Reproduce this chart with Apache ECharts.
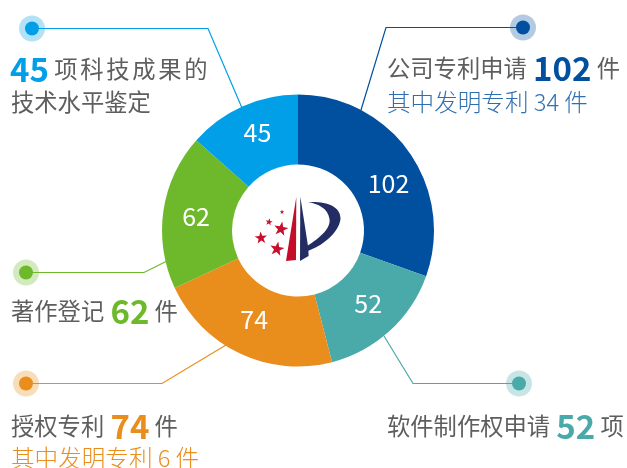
<!DOCTYPE html>
<html>
<head>
<meta charset="utf-8">
<style>
html,body{margin:0;padding:0;background:#fff;}
#chart{width:627px;height:468px;}
</style>
<script src="https://cdn.jsdelivr.net/npm/echarts@6/dist/echarts.min.js"></script>
</head>
<body>
<div id="chart"></div>
<script>
var categories = ['公司专利申请', '软件制作权申请', '授权专利', '著作登记', '项科技成果的技术水平鉴定'];
var values = [102, 52, 74, 62, 45];
var colors = ['#00509f', '#4aa9a9', '#e98d1c', '#6eb92b', '#009fe8'];
var inventionPatents = [34, 6];

var FONT = '"Noto Sans CJK SC", "Noto Sans", sans-serif';
var GREY = '#5e5e5e';

// 引线：圆点 -> 折点 -> 扇形边缘，顺序同 categories
var leaders = [
    [[523, 27.5], [386, 27.5], [361, 110]],
    [[519, 383.5], [413, 383.5], [384, 336]],
    [[26, 383.5], [162, 383.5], [226, 345]],
    [[26, 272.5], [144, 272.5], [167, 261]],
    [[32, 28.5], [208, 28.5], [242, 108]]
];
var labelOffsets = [[5.5, 13], [0, -4], [0.5, -5], [1, 1], [2, -3]];

function hexAlpha(hex, a){
    var n = parseInt(hex.slice(1), 16);
    return 'rgba(' + (n >> 16) + ',' + ((n >> 8) & 255) + ',' + (n & 255) + ',' + a + ')';
}

function starPoints(cx, cy, r, rot){
    var pts = [];
    for(var i = 0; i < 10; i++){
        var rr = i % 2 ? r * 0.4 : r;
        var a = (rot - 90 + i * 36) * Math.PI / 180;
        pts.push([cx + rr * Math.cos(a), cy + rr * Math.sin(a)]);
    }
    return pts;
}

function richStyles(color){
    return {
        t: {fontFamily: FONT, fontSize: 23.3, fill: GREY, lineHeight: 34},
        w: {fontFamily: FONT, fontSize: 23.3, fill: GREY, lineHeight: 34, padding: [0, 2.7, 0, 0]},
        n: {fontFamily: FONT, fontSize: 33, fontWeight: 'bold', fill: color, lineHeight: 34, padding: [0, 0, 0, 1]},
        s: {fontFamily: FONT, fontSize: 23.6, fontWeight: 300, fill: color, lineHeight: 34}
    };
}

function textEl(x, y, text, color){
    return {
        type: 'text', x: x, y: y, z: 10,
        style: {
            text: text, rich: richStyles(color),
            fontFamily: FONT, verticalAlign: 'middle', align: 'left'
        }
    };
}

// 字间距稍大的一行
function spaced(str){
    return str.split('').map(function(c){ return '{w|' + c + '}'; }).join('');
}

echarts.graphic.registerShape('logoStem', echarts.graphic.extendPath('M300.3 196.5 L308.3 248 L308.6 256 L300 261 Z', {}));
echarts.graphic.registerShape('logoBowl', echarts.graphic.extendPath('M308 202 C326 201 341 206 340.5 219 C339 233 321 247 307 251 L307 246 C320 238 331 228 329.5 219 C328 208 318 204 308 202 Z', {}));

var graphics = [];

leaders.forEach(function(pts, i){
    graphics.push({type: 'polyline', z: 1, shape: {points: pts}, style: {stroke: colors[i], lineWidth: 1.2, fill: null}});
    graphics.push({type: 'circle', z: 2, shape: {cx: pts[0][0], cy: pts[0][1], r: 13}, style: {fill: hexAlpha(colors[i], 0.3)}});
    graphics.push({type: 'circle', z: 3, shape: {cx: pts[0][0], cy: pts[0][1], r: 7}, style: {fill: colors[i]}});
});

graphics.push(textEl(387, 68, '{t|' + categories[0] + ' }{n|' + values[0] + '}{t| 件}', colors[0]));
graphics.push(textEl(387, 102, '{s|其中发明专利 ' + inventionPatents[0] + ' 件}', '#2f6fb0'));
graphics.push(textEl(387, 426, '{t|' + categories[1] + ' }{n|' + values[1] + '}{t| 项}', colors[1]));
graphics.push(textEl(11, 311, '{t|' + categories[3] + ' }{n|' + values[3] + '}{t| 件}', colors[3]));
graphics.push(textEl(11, 426, '{t|' + categories[2] + ' }{n|' + values[2] + '}{t| 件}', colors[2]));
graphics.push(textEl(11, 458, '{s|其中发明专利 ' + inventionPatents[1] + ' 件}', colors[2]));
graphics.push(textEl(9, 69, '{n|' + values[4] + '}{t| }' + spaced('项科技成果的'), colors[4]));
graphics.push(textEl(11, 102, '{t|技术水平鉴定}', colors[4]));

// 中间的标志
[[281, 229, 7.5, 10], [269, 222, 3.8, 10], [282, 212, 2.4, 0], [261, 238, 6.5, -5], [277, 249, 7.5, 10]].forEach(function(s){
    graphics.push({type: 'polygon', z: 5, shape: {points: starPoints(s[0], s[1], s[2], s[3])}, style: {fill: '#c8102e'}});
});
graphics.push({type: 'polygon', z: 5, shape: {points: [[296.3, 197], [286, 261], [296, 260]]}, style: {fill: '#c40d2a'}});
graphics.push({type: 'logoStem', z: 5, style: {fill: '#232d63'}});
graphics.push({type: 'logoBowl', z: 5, style: {fill: '#232d63'}});

var chart = echarts.init(document.getElementById('chart'));
var option = {
    animation: false,
    backgroundColor: '#fff',
    series: [{
        type: 'pie',
        center: [298, 230.5],
        radius: [66, 136],
        startAngle: 90,
        clockwise: true,
        avoidLabelOverlap: false,
        silent: true,
        labelLine: {show: false},
        label: {
            show: true,
            position: 'inside',
            color: '#fff',
            fontSize: 25,
            fontFamily: FONT,
            formatter: '{c}'
        },
        data: categories.map(function(name, i){
            return {
                name: name,
                value: values[i],
                itemStyle: {color: colors[i]},
                label: {offset: labelOffsets[i]}
            };
        })
    }],
    graphic: graphics
};
chart.setOption(option);
</script>
</body>
</html>
